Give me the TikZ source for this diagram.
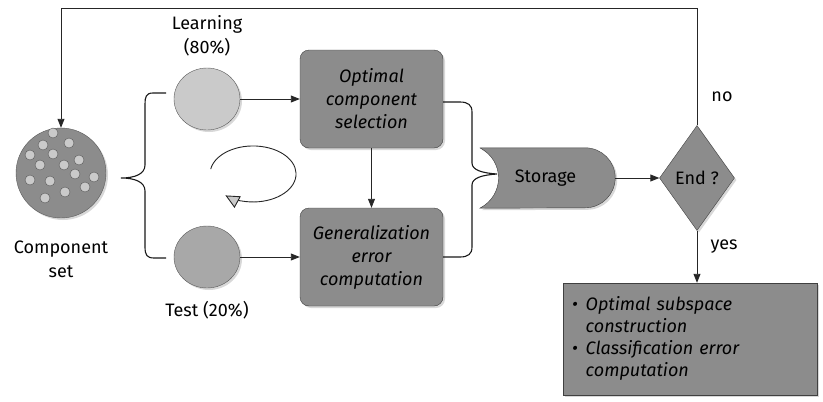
\documentclass[tikz,border=0pt]{standalone}
\usepackage{fontspec}
\setmainfont{Fira Sans}
\usetikzlibrary{shapes,arrows.meta,positioning,calc,shadows}
\definecolor{boxgray}{RGB}{140,140,140}
\definecolor{lightdisk}{RGB}{202,202,202}
\definecolor{middisk}{RGB}{168,168,168}
\tikzset{
lbl/.style = {font=\fontsize{18}{24}\selectfont, align=center},
shade2/.style = {drop shadow={shadow xshift=2pt, shadow yshift=-2pt, fill=black!30}},
block/.style = {draw=black!75, fill=boxgray, rounded corners=9pt, minimum width=143pt, minimum height=98pt, align=center, font=\fontsize{18}{23}\selectfont\itshape, shade2},
disk/.style = {draw=black!65, ellipse, minimum width=66pt, minimum height=62pt, shade2},
grain/.style = {draw=black!65, fill=lightdisk},
condition/.style = {draw=black!75, fill=boxgray, diamond, minimum width=75pt, minimum height=105pt, inner sep=0pt, font=\fontsize{18}{23}\selectfont, shade2},
result/.style = {draw=black!75, fill=boxgray, rectangle, minimum width=254pt, minimum height=112pt, text width=236pt, align=left, font=\fontsize{18}{22}\selectfont\itshape, shade2},
arr/.style = {draw=black!85, line width=0.9pt, -{Triangle[length=9pt,width=7pt]}},
brace/.style = {draw=black!90, line width=1.1pt}
}
\begin{document}
\begin{tikzpicture}[x=1pt, y=-1pt]
\useasboundingbox (0,0) rectangle (823,402);
% component set
\node [circle, draw=black!65, fill=boxgray, minimum size=90pt, shade2] (comp) at (61,173) {};
\foreach \p in {(53,133),(43,145),(69,143),(30,155),(53,154),(79,160),(40,165),(64,165),(75,174),(94,177),(30,180),(50,181),(85,187),(65,192),(45,198)}
  \draw [grain] \p circle [radius=5];
\node [lbl] (complbl) at (61,259) {Component\\set};

% learning / test split
\node [disk, fill=lightdisk] (learn) at (207,99) {};
\node [disk, fill=middisk] (test) at (207,257) {};
\node [lbl] (learnlbl) at (207,36) {Learning\\(80\%)};
\node [lbl] (testlbl) at (207,310) {Test (20\%)};
\draw [brace] (166,93) -- (153,93) .. controls (146,93) and (145,97) .. (145,104) -- (145,165)
  .. controls (145,174) and (135,178) .. (121,178) .. controls (135,178) and (145,182) .. (145,191)
  -- (145,247) .. controls (145,255) and (147,258) .. (154,258) -- (166,258);

% loop symbol
\draw [draw=black!85, line width=0.9pt, -{Triangle[length=14pt,width=13pt,fill=lightdisk]}]
  (210.7,169.1) arc [start angle=190, end angle=490, x radius=43, y radius=28];

% processing blocks
\node [block] (optsel) at (371.5,99) {Optimal\\component\\selection};
\node [block] (generr) at (371.5,257) {Generalization\\error\\computation};
\draw [arr] (learn.east) -- (optsel.west);
\draw [arr] (test.east) -- (generr.west);
\draw [arr] (optsel.south) -- (generr.north);
\draw [brace] ([yshift=-3pt]optsel.east) -- (460,102) .. controls (468,102) and (472,105) .. (472,112) -- (472,163)
  .. controls (472,170) and (482,173) .. (497,174) .. controls (482,175) and (472,178) .. (472,185)
  -- (472,247) .. controls (472,254) and (468,257) .. (460,257) -- (generr.east);

% storage
\node [lbl, minimum width=135pt, minimum height=60pt] (storage) at (547.5,178) {};
\draw [draw=black!75, fill=boxgray, shade2] (storage.north west) -- ([xshift=-30pt]storage.north east)
  arc [start angle=90, end angle=-90, radius=30pt] -- (storage.south west)
  .. controls ([xshift=25pt,yshift=13pt]storage.south west) and ([xshift=25pt,yshift=-13pt]storage.north west) .. (storage.north west);
\node [lbl] at ([xshift=-2pt]storage.center) {Storage};

% decision
\node [condition] (endq) at (697,178) {End ?};
\draw [arr] (storage.east) -- (endq.west);
\coordinate (looptop) at (0,8);
\draw [arr] (endq.north) -- (endq.north |- looptop) -| (comp.north);
\node [lbl] (nolbl) at (722,97) {no};

% result
\node [result] (res) at (690,339) {%
\begin{tabular}{@{}l@{\hspace{8pt}}l@{}}
\textbullet & Optimal subspace\\
 & construction\\
\textbullet & Classification error\\
 & computation
\end{tabular}};
\draw [arr] (endq.south) -- (res.north -| endq.south);
\node [lbl] (yeslbl) at (724,247) {yes};
\end{tikzpicture}
\end{document}
